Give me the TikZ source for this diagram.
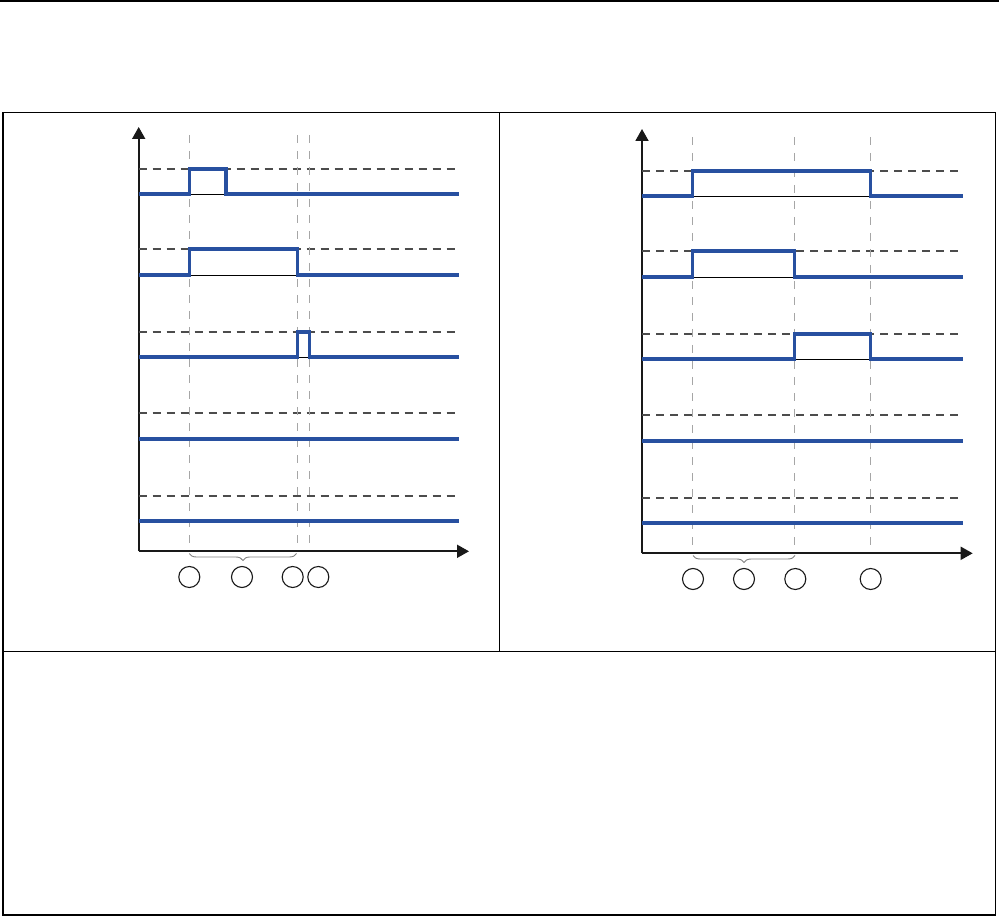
\documentclass[tikz,border=0pt]{standalone}
\usepackage{tikz}
\usetikzlibrary{arrows.meta}
\usetikzlibrary{calc}
\usetikzlibrary{decorations.pathreplacing}

\definecolor{sigblue}{RGB}{40,80,160}

\begin{document}
\begin{tikzpicture}[
    x=1pt, y=-1pt,
    >={Triangle[length=12pt,width=13pt]},
    % Estilo para las señales (líneas azules gruesas)
    Signal/.style={
        draw=sigblue,
        line width=3.2pt,
        line join=miter
    },
    % Nivel alto de cada señal (discontinua horizontal)
    Level/.style={draw=black!70, line width=1.2pt, dash pattern=on 8pt off 6pt},
    % Instantes de conmutación (discontinua vertical)
    Instant/.style={draw=black!35, line width=1pt, dash pattern=on 8pt off 8pt},
    Axis/.style={draw=black!90, line width=1.8pt, ->},
    Base/.style={draw=black, line width=0.8pt},
    Marker/.style={circle, draw=black!90, line width=1.1pt, minimum size=21pt, inner sep=0pt},
    Brace/.style={
        draw=black!50,
        line width=0.9pt,
        decorate,
        decoration={brace, mirror, amplitude=7pt}
    }
]

    \useasboundingbox (0,0) rectangle (999,917);

    % --- 1. MARCO ---
    \draw[line width=1.5pt] (0,1) -- (999,1);
    \draw[line width=1.3pt] (3,112.5) rectangle (995.5,915);
    \draw[line width=1.3pt] (499.3,112.5) -- (499.3,651.7);
    \draw[line width=1.3pt] (3,651.7) -- (995.5,651.7);

    % --- 2. PANEL IZQUIERDO ---
    \begin{scope}
        % Ejes
        \coordinate (OL) at (138.7,551.3);
        \draw[Axis] (OL) -- (138.7,127);
        \draw[Axis] (OL) -- (469,551.3);

        % Niveles altos
        \foreach \y in {169, 249, 332, 413, 496} {
            \draw[Level] (138.7,\y) -- (459,\y);
        }

        % Instantes
        \foreach \x in {189.3, 297.7, 309.3} {
            \draw[Instant] (\x,135) -- (\x,543);
        }

        % Señales
        \draw[Base] (189.3,194) -- (226,194);
        \draw[Signal] (138.7,194) -- (189.3,194) -- (189.3,169) -- (226,169) -- (226,194) -- (459,194);

        \draw[Base] (189.3,275) -- (297.7,275);
        \draw[Signal] (138.7,275) -- (189.3,275) -- (189.3,249) -- (297.7,249) -- (297.7,275) -- (459,275);

        \draw[Base] (297.7,357) -- (309.3,357);
        \draw[Signal] (138.7,357) -- (297.7,357) -- (297.7,332) -- (309.3,332) -- (309.3,357) -- (459,357);

        \draw[Signal] (138.7,439) -- (459,439);
        \draw[Signal] (138.7,521) -- (459,521);

        % Llave y marcas
        \draw[Brace] (189.3,553.5) -- (296.5,553.5);
        \node[Marker] (L1) at (189.3,577) {};
        \node[Marker] (L2) at (242,577) {};
        \node[Marker] (L3) at (292.7,577) {};
        \node[Marker] (L4) at (318.3,577) {};
    \end{scope}

    % --- 3. PANEL DERECHO ---
    \begin{scope}[shift={(0,2)}]
        % Ejes
        \coordinate (OR) at (642,551.3);
        \draw[Axis] (OR) -- (642,127);
        \draw[Axis] (OR) -- (972.7,551.3);

        % Niveles altos
        \foreach \y in {169, 249, 332, 413, 496} {
            \draw[Level] (642,\y) -- (962.7,\y);
        }

        % Instantes
        \foreach \x in {692.7, 794.3, 870.7} {
            \draw[Instant] (\x,135) -- (\x,543);
        }

        % Señales
        \draw[Base] (692.7,194) -- (870.7,194);
        \draw[Signal] (642,194) -- (692.7,194) -- (692.7,169) -- (870.7,169) -- (870.7,194) -- (962.7,194);

        \draw[Base] (692.7,275) -- (794.3,275);
        \draw[Signal] (642,275) -- (692.7,275) -- (692.7,249) -- (794.3,249) -- (794.3,275) -- (962.7,275);

        \draw[Base] (794.3,357) -- (870.7,357);
        \draw[Signal] (642,357) -- (794.3,357) -- (794.3,332) -- (870.7,332) -- (870.7,357) -- (962.7,357);

        \draw[Signal] (642,439) -- (962.7,439);
        \draw[Signal] (642,521) -- (962.7,521);

        % Llave y marcas
        \draw[Brace] (693,553.5) -- (795,553.5);
        \node[Marker] (R1) at (693,577) {};
        \node[Marker] (R2) at (744,577) {};
        \node[Marker] (R3) at (795.3,577) {};
        \node[Marker] (R4) at (870.7,577) {};
    \end{scope}

\end{tikzpicture}
\end{document}
